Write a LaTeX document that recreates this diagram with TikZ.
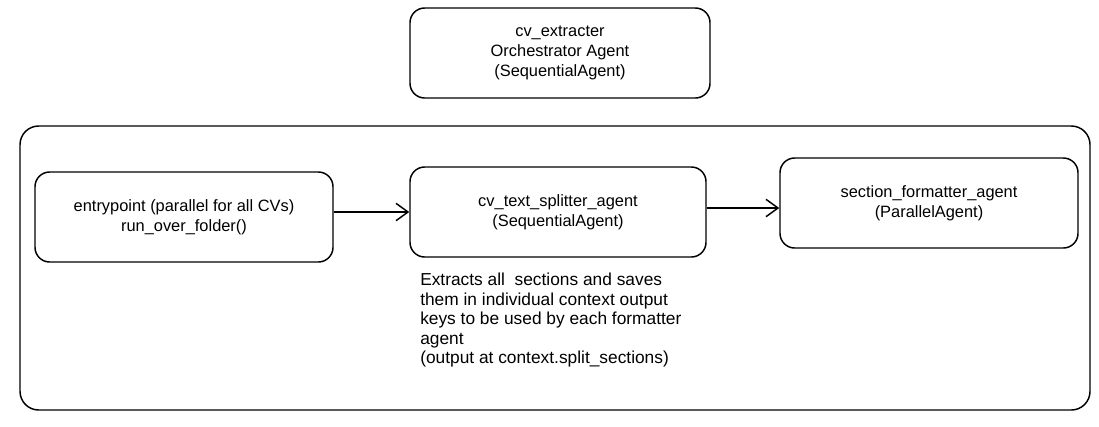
\documentclass[tikz,border=0pt]{standalone}
\usepackage{fontspec}
\setmainfont{Liberation Sans}
\usetikzlibrary{arrows.meta}
\begin{document}
\begin{tikzpicture}[x=0.75pt,y=-0.75pt,
  agentbox/.style={draw, line width=1.1pt, rounded corners=11pt, align=center, inner sep=0pt, font=\fontsize{12.3}{15}\selectfont},
  flow/.style={draw, line width=1.2pt, -{Straight Barb[length=9pt,width=13pt,line width=1.1pt]}},
  note/.style={align=left, anchor=north west, inner sep=0pt, font=\fontsize{13}{14.6}\selectfont}]
\useasboundingbox (0,0) rectangle (1099,426);
\node[agentbox, minimum width=225pt, minimum height=67.5pt] (orch) at (560,53) {cv\_extracter\\Orchestrator Agent\\(SequentialAgent)};
\draw[line width=1.1pt, rounded corners=14pt] (20,126) rectangle (1090,410);
\node[agentbox, minimum width=223.5pt, minimum height=67.5pt] (entry) at (184,217) {entrypoint (parallel for all CVs)\\run\_over\_folder()};
\node[agentbox, minimum width=222pt, minimum height=67.5pt] (split) at (558,212) {cv\_text\_splitter\_agent\\(SequentialAgent)};
\node[agentbox, minimum width=223.5pt, minimum height=67.5pt] (form) at (929,203) {section\_formatter\_agent\\(ParallelAgent)};
\draw[flow] (entry.east |- split.west) -- (split.west);
\draw[flow] ([yshift=3pt]split.east) -- ([yshift=3pt]split.east -| form.west);
\node[note] (desc) at (420,273) {Extracts all\ \ sections and saves\\them in individual context output\\keys to be used by each formatter\\agent\\(output at context.split\_sections)};
\end{tikzpicture}
\end{document}
